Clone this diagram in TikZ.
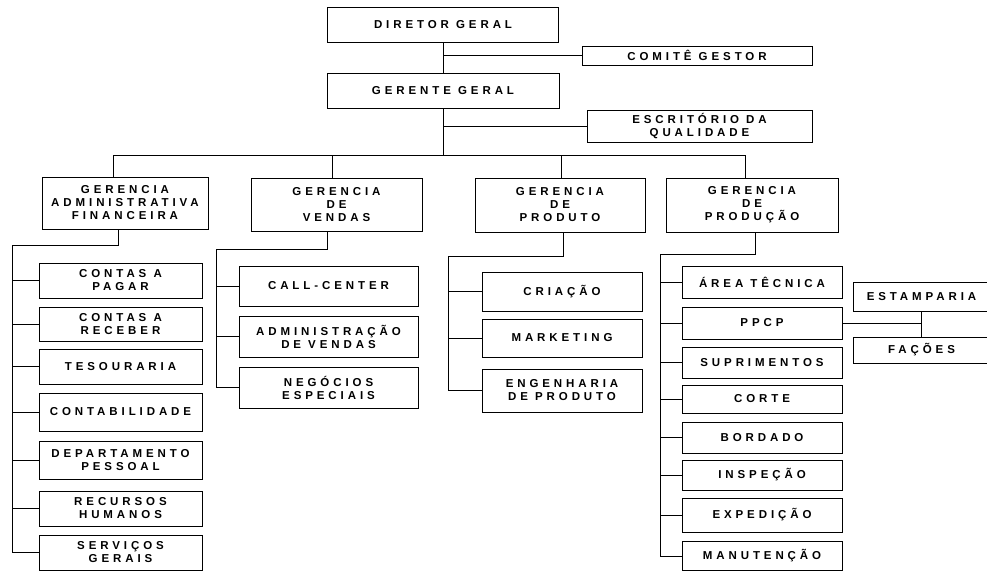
\documentclass[tikz,border=0pt]{standalone}
\usepackage{fontspec}
\setmainfont{Liberation Sans}[LetterSpace=34]
\begin{document}
\begin{tikzpicture}[x=1pt, y=-1pt, line width=1pt,
  box/.style={draw, fill=white, align=center, inner sep=1pt, font=\fontsize{11.5}{13}\selectfont\bfseries}]

\clip (0,0) rectangle (987,571);
\fill[white] (0,0) rectangle (987,571);

\node[box, minimum width=231, minimum height=35] (dir) at (443,24.5) {DIRETOR GERAL};
\node[box, minimum width=230, minimum height=19] (comite) at (697,55.5) {COMITÊ GESTOR};
\node[box, minimum width=232, minimum height=35] (ger) at (443,90.5) {GERENTE GERAL};
\node[box, minimum width=225, minimum height=32] (esc) at (699.5,126) {ESCRITÓRIO DA\\QUALIDADE};

\draw (dir) -- (ger);
\draw (comite.west) -- (comite.west -| dir.south);
\draw (esc.west) -- (esc.west -| ger.south);

\node[box, minimum width=166, minimum height=52] (gadm) at (125,203) {GERENCIA\\ADMINISTRATIVA\\FINANCEIRA};
\node[box, minimum width=171, minimum height=53] (gven) at (336.5,204.5) {GERENCIA\\DE\\VENDAS};
\node[box, minimum width=170, minimum height=54] (gprod) at (560,205) {GERENCIA\\DE\\PRODUTO};
\node[box, minimum width=172, minimum height=54] (gpcao) at (752,205) {GERENCIA\\DE\\PRODUÇÃO};

\coordinate (bus) at (443,155);
\coordinate (b1) at (113,155);
\coordinate (b2) at (332,155);
\coordinate (b3) at (561,155);
\coordinate (b4) at (745,155);
\draw (ger.south) -- (bus);
\draw (b1 |- gadm.north) -- (b1) -- (b4) -- (b4 |- gpcao.north);
\draw (b2) -- (b2 |- gven.north);
\draw (b3) -- (b3 |- gprod.north);

\node[box, minimum width=163, minimum height=35] (cpag) at (120.5,280.5) {CONTAS A\\PAGAR};
\node[box, minimum width=163, minimum height=34] (crec) at (120.5,324) {CONTAS A\\RECEBER};
\node[box, minimum width=163, minimum height=35] (teso) at (120.5,366.5) {TESOURARIA};
\node[box, minimum width=163, minimum height=38] (cont) at (120.5,412) {CONTABILIDADE};
\node[box, minimum width=163, minimum height=38] (dpes) at (120.5,460) {DEPARTAMENTO\\PESSOAL};
\node[box, minimum width=163, minimum height=35] (rhum) at (120.5,508.5) {RECURSOS\\HUMANOS};
\node[box, minimum width=163, minimum height=35] (sger) at (120.5,552.5) {SERVIÇOS\\GERAIS};

\coordinate (a0) at (118,245);
\coordinate (a1) at (12,245);
\draw (a0 |- gadm.south) -- (a0) -- (a1) -- (a1 |- sger.west);
\foreach \n in {cpag,crec,teso,cont,dpes,rhum,sger}
  \draw (\n.west) -- (\n.west -| a1);

\node[box, minimum width=179, minimum height=40] (call) at (328.5,286) {CALL-CENTER};
\node[box, minimum width=179, minimum height=41] (admv) at (328.5,336.5) {ADMINISTRAÇÃO\\DE VENDAS};
\node[box, minimum width=179, minimum height=41] (nego) at (328.5,387.5) {NEGÓCIOS\\ESPECIAIS};

\coordinate (v0) at (327,249);
\coordinate (v1) at (216,249);
\draw (v0 |- gven.south) -- (v0) -- (v1) -- (v1 |- nego.west);
\foreach \n in {call,admv,nego}
  \draw (\n.west) -- (\n.west -| v1);

\node[box, minimum width=160, minimum height=39] (cria) at (562,291.5) {CRIAÇÃO};
\node[box, minimum width=160, minimum height=38] (mkt) at (562,338) {MARKETING};
\node[box, minimum width=160, minimum height=43] (eng) at (562,390.5) {ENGENHARIA\\DE PRODUTO};

\coordinate (p0) at (563,256);
\coordinate (p1) at (448,256);
\draw (p0 |- gprod.south) -- (p0) -- (p1) -- (p1 |- eng.west);
\foreach \n in {cria,mkt,eng}
  \draw (\n.west) -- (\n.west -| p1);

\node[box, minimum width=160, minimum height=32] (area) at (762,282) {ÁREA TÊCNICA};
\node[box, minimum width=160, minimum height=32] (ppcp) at (762,323) {PPCP};
\node[box, minimum width=160, minimum height=31] (supr) at (762,362.5) {SUPRIMENTOS};
\node[box, minimum width=160, minimum height=28] (corte) at (762,399) {CORTE};
\node[box, minimum width=160, minimum height=31] (bord) at (762,437.5) {BORDADO};
\node[box, minimum width=160, minimum height=30] (insp) at (762,475) {INSPEÇÃO};
\node[box, minimum width=160, minimum height=34] (exped) at (762,515) {EXPEDIÇÃO};
\node[box, minimum width=160, minimum height=29] (manut) at (762,556) {MANUTENÇÃO};

\coordinate (r0) at (755,254);
\coordinate (r1) at (660,254);
\draw (r0 |- gpcao.south) -- (r0) -- (r1) -- (r1 |- manut.west);
\foreach \n in {area,ppcp,supr,corte,bord,insp,exped,manut}
  \draw (\n.west) -- (\n.west -| r1);

\node[box, minimum width=137, minimum height=29] (estamp) at (921.5,296.5) {ESTAMPARIA};
\node[box, minimum width=137, minimum height=26] (facoes) at (921.5,350) {FAÇÕES};

\draw (ppcp.east) -- (ppcp.east -| estamp.south);
\draw (estamp.south) -- (facoes.north);

\end{tikzpicture}
\end{document}
